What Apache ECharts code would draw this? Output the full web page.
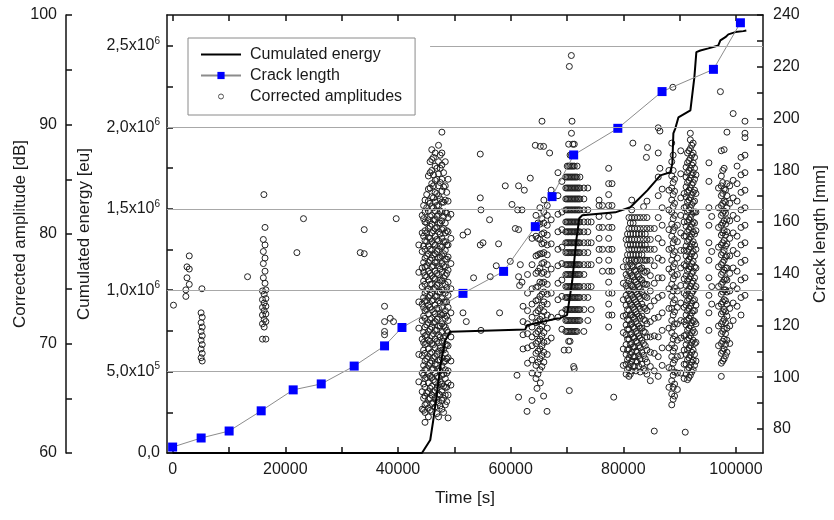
<!DOCTYPE html>
<html>
<head>
<meta charset="utf-8">
<script src="https://cdn.jsdelivr.net/npm/echarts@6.0.0/dist/echarts.min.js"></script>
<style>
  html, body { margin: 0; padding: 0; background: #fff; }
  #chart { width: 834px; height: 520px; }
</style>
</head>
<body>
<div id="chart"></div>
<script>
// cumulated energy curve
const energyTime = [0, 44260, 45730, 46270, 46920, 47690, 48400, 49280, 62600, 62910, 68230, 68820, 70010, 70290,
  70950, 71660, 72190, 72720, 78590, 81250, 84270, 86580, 88360, 88710, 88890, 89240, 89780, 91910, 92620,
  92970, 93680, 95100, 95450, 96870, 97230, 98120, 98650, 99900, 101310, 101840];
const energyValue = [0, 0, 79800, 202500, 368000, 570500, 693000, 744000, 759000, 785000, 826000, 828000, 846600, 908000,
  1061000, 1307000, 1442000, 1460000, 1478000, 1509000, 1613000, 1705000, 1724000, 1779000, 1963000, 1994000, 2061000, 2104000, 2309000,
  2462000, 2472000, 2485000, 2497000, 2503000, 2534000, 2554000, 2571000, 2585000, 2591000, 2595000];

// crack length measurements
const crackTime = [0, 5060, 10030, 15720, 21400, 26380, 32230, 37620, 40710, 51540, 58750, 64380, 67350, 71190, 79030, 86880, 96000, 100790];
const crackLength = [73.0, 76.5, 79.2, 87.0, 95.1, 97.4, 104.3, 112.1, 119.2, 132.4, 140.9, 158.2, 169.8, 185.9, 196.2, 210.4, 219.0, 237.0];

// corrected amplitudes, grouped as [time, [amplitudes at that time]]
const ampEarly = [
  [150, [73.5]], [2350, [74.9, 74.3]], [2550, [76.0, 77.0]], [2950, [75.4, 76.8, 78.0]], [5200, [75.0]],
  [5050, [72.8, 71.9, 71.1, 70.3, 69.5, 68.7]], [5250, [72.4, 71.5, 70.7, 69.9, 69.1, 68.4]],
  [13300, [76.1]], [16200, [83.6]], [16400, [80.6, 79.0, 77.8, 76.6, 75.5]], [16100, [79.5, 78.4, 77.3, 76.0]],
  [15950, [74.8, 74.0, 73.3, 72.6, 71.8, 70.4]], [16250, [74.5, 73.7, 73.0, 72.2, 71.5]], [16550, [74.9, 74.1, 73.4, 72.7, 72.0, 70.4]],
  [22060, [78.3]], [23230, [81.4]], [33300, [78.3]], [34010, [80.4, 78.2]], [39690, [81.4]],
  [37620, [73.4, 72.0, 71.1, 70.8]], [38630, [72.3]], [39210, [72.0]]
];

const amp45k = [
  [43700, [66.5, 69.0, 71.4, 73.8, 76.5, 79.0]],
  [44300, [64.0, 65.6, 67.3, 68.9, 70.4, 72.1, 73.6, 75.2, 76.9, 78.4, 80.1, 81.7]],
  [44550, [63.9, 65.0, 66.3, 67.1, 68.0, 69.4, 70.1, 71.0, 72.5, 73.3, 74.2, 75.7, 76.5, 77.4, 78.9, 79.8, 81.4, 82.6]],
  [44800, [62.8, 63.7, 64.4, 65.2, 66.0, 66.8, 67.6, 68.4, 69.1, 69.9, 70.7, 71.5, 72.3, 73.0, 73.9, 74.6, 75.4, 76.2, 77.0, 77.8, 78.6, 79.4, 80.3, 81.1, 82.0, 83.1]],
  [45100, [64.5, 65.5, 66.9, 67.7, 68.6, 70.0, 70.8, 71.7, 73.1, 73.9, 74.8, 76.1, 77.1, 78.0, 79.3, 80.1, 81.0, 82.4, 83.6]],
  [45400, [63.3, 64.1, 64.9, 65.6, 66.4, 67.2, 68.0, 68.8, 69.5, 70.3, 71.1, 71.9, 72.7, 73.5, 74.2, 75.0, 75.8, 76.6, 77.4, 78.2, 78.9, 79.7, 80.5, 81.3, 82.1, 83.0, 84.1, 85.3]],
  [45700, [63.9, 65.0, 65.9, 67.0, 68.2, 69.1, 70.2, 71.3, 72.2, 73.3, 74.4, 75.4, 76.4, 77.6, 78.6, 79.6, 80.7, 81.6, 82.8, 84.2, 85.6, 86.6]],
  [46000, [63.8, 64.5, 65.3, 66.1, 66.9, 67.6, 68.4, 69.2, 70.0, 70.7, 71.5, 72.3, 73.1, 73.9, 74.6, 75.4, 76.2, 77.0, 77.8, 78.5, 79.3, 80.1, 80.9, 81.7, 82.5, 83.4, 84.6, 85.8, 86.8, 87.7]],
  [46300, [64.6, 65.6, 66.7, 67.7, 68.7, 69.9, 70.9, 71.9, 72.9, 74.0, 75.0, 76.0, 77.1, 78.1, 79.1, 80.3, 81.3, 82.4, 83.3, 84.4, 85.4, 87.0]],
  [46600, [64.2, 65.0, 65.7, 66.5, 67.3, 68.1, 68.8, 69.6, 70.4, 71.2, 72.0, 72.7, 73.5, 74.3, 75.1, 75.9, 76.6, 77.4, 78.2, 79.0, 79.8, 80.5, 81.3, 82.1, 82.9, 83.8, 84.9, 86.2, 87.4]],
  [46900, [63.6, 64.9, 65.9, 67.0, 68.0, 69.0, 70.2, 71.2, 72.2, 73.2, 74.3, 75.3, 76.4, 77.4, 78.4, 79.5, 80.6, 81.6, 82.6, 83.7, 85.0, 86.0]],
  [47200, [63.3, 64.6, 65.4, 66.2, 66.9, 67.7, 68.5, 69.3, 70.1, 70.8, 71.6, 72.4, 73.2, 73.9, 74.7, 75.5, 76.3, 77.1, 77.8, 78.6, 79.4, 80.2, 81.0, 81.8, 82.6, 83.5, 84.4, 85.5, 86.6, 88.1]],
  [47500, [64.3, 65.3, 66.5, 67.5, 68.5, 69.6, 70.6, 71.6, 72.7, 73.7, 74.7, 75.8, 76.8, 77.9, 78.9, 80.0, 81.0, 82.1, 83.2, 84.7, 86.0, 87.2]],
  [47800, [64.0, 64.8, 65.6, 66.3, 67.1, 67.9, 68.7, 69.4, 70.2, 71.0, 71.8, 72.6, 73.3, 74.1, 74.9, 75.7, 76.5, 77.3, 78.0, 78.8, 79.6, 80.4, 81.2, 82.0, 82.9, 83.9, 85.0, 86.3, 87.4, 89.3]],
  [48100, [63.7, 65.0, 66.1, 67.2, 68.3, 69.4, 70.5, 71.6, 72.7, 73.8, 74.9, 76.0, 77.1, 78.2, 79.3, 80.5, 81.6, 82.9, 84.3, 85.6]],
  [48400, [64.4, 65.3, 66.0, 66.8, 67.6, 68.4, 69.1, 69.9, 70.7, 71.5, 72.3, 73.0, 73.8, 74.6, 75.4, 76.2, 77.0, 77.7, 78.5, 79.3, 80.1, 81.0, 82.0, 83.1, 84.4, 86.6]],
  [48650, [64.7, 66.0, 67.3, 68.6, 69.9, 71.2, 72.5, 73.8, 75.1, 76.4, 77.7, 79.0, 80.3, 81.9, 83.8]],
  [48900, [63.2, 65.3, 66.4, 67.5, 68.7, 69.8, 71.0, 72.1, 73.3, 74.4, 75.6, 76.7, 77.9, 79.0, 80.2, 81.5, 83.0, 85.0]],
  [49400, [66.2, 68.4, 70.6, 72.8, 75.0, 77.3, 79.6, 81.8]]
];

const ampSparse = [
  [51540, [79.9, 72.8]], [52130, [72.0]], [52360, [80.2]], [53420, [76.0]], [54610, [87.3, 83.3, 79.0]], [54730, [82.2, 71.2]],
  [55090, [79.2]], [56260, [81.3]], [56390, [76.1]], [57450, [77.1]], [57860, [79.1]], [58040, [72.8]],
  [59050, [84.4]], [59940, [77.5]], [60240, [82.7]], [60830, [80.5]], [61130, [67.1]], [61240, [82.2]],
  [61410, [84.4, 80.4, 76.1, 65.1]], [61590, [75.3]], [61720, [77.2]], [62020, [82.2, 75.6]], [62430, [84.0]],
  [62910, [63.8]], [63490, [85.1]], [63790, [64.8]], [64380, [88.1]], [64680, [65.9]], [65270, [88.0, 66.4]],
  [65570, [90.3]], [65850, [88.0, 65.2]], [66460, [63.8]], [66920, [87.4]],
  [70420, [95.3, 65.7]], [70780, [96.3]], [70900, [90.3]], [71180, [67.9]]
];

const amp65k = [
  [62200, [69.5, 70.8, 72.0, 73.4]],
  [63000, [68.2, 69.6, 70.9, 71.8, 73.0, 74.6, 76.3]],
  [63800, [67.3, 68.5, 69.8, 70.6, 71.5, 72.4, 73.6, 75.0, 77.2, 79.6]],
  [64500, [66.8, 68.0, 69.1, 70.0, 70.9, 71.9, 72.8, 73.9, 75.1, 76.4, 78.0, 79.8, 81.7]],
  [64850, [67.2, 68.3, 69.3, 70.2, 71.1, 72.0, 73.0, 74.0, 75.2, 76.6, 78.1, 79.6, 81.0]],
  [65200, [67.6, 68.6, 69.5, 70.4, 71.3, 72.2, 73.2, 74.3, 75.6, 76.9, 78.2, 79.5, 80.9, 82.4]],
  [65550, [67.9, 68.9, 69.8, 70.7, 71.6, 72.5, 73.5, 74.5, 75.5, 76.4, 77.3, 78.2, 79.1, 80.0, 81.4]],
  [65900, [68.3, 69.2, 70.1, 71.0, 72.0, 72.9, 73.8, 74.7, 75.6, 76.5, 77.4, 78.3, 79.2, 80.1, 81.0, 82.0, 83.1]],
  [66500, [69.0, 70.2, 71.4, 72.6, 73.6, 74.5, 75.4, 76.3, 77.2, 78.1, 79.0, 79.9, 80.8, 81.7, 82.6]],
  [67200, [70.5, 72.4, 74.6, 76.8, 79.1, 81.3, 84.0]],
  [68400, [72.4, 74.0, 75.5, 77.1, 78.6, 80.2, 81.8, 83.5, 85.6]],
  [69100, [71.3, 72.8, 74.3, 75.8, 77.3, 78.8, 80.4, 82.0, 84.8]]
];

const amp72k = [
  [69500, [69.4]],
  [69800, [71.1, 72.1, 73.1, 74.2, 75.2, 76.3, 77.2, 78.3, 79.2, 80.2, 81.1, 82.2, 83.2, 84.2, 85.2]],
  [70050, [71.1, 72.1, 73.1, 74.2, 75.2, 76.3, 77.2, 78.3, 79.2, 80.2, 81.1, 82.2, 83.2, 84.2, 85.2, 86.2]],
  [70300, [69.4, 70.2, 71.1, 72.1, 73.1, 74.2, 75.2, 76.3, 77.2, 78.3, 79.2, 80.2, 81.1, 82.2, 83.2, 84.2, 85.2, 86.2, 88.2]],
  [70550, [70.2, 71.1, 72.1, 73.1, 74.2, 75.2, 76.3, 77.2, 78.3, 79.2, 80.2, 81.1, 82.2, 83.2, 84.2, 85.2, 86.2, 87.2]],
  [70800, [71.1, 72.1, 73.1, 74.2, 75.2, 76.3, 77.2, 78.3, 79.2, 80.2, 81.1, 82.2, 83.2, 84.2, 85.2, 86.2, 87.2, 89.2]],
  [71050, [71.1, 72.1, 73.1, 74.2, 75.2, 76.3, 77.2, 78.3, 79.2, 80.2, 81.1, 82.2, 83.2, 84.2, 85.2, 86.2, 88.2]],
  [71300, [67.7, 71.1, 72.1, 73.1, 74.2, 75.2, 76.3, 77.2, 78.3, 79.2, 80.2, 81.1, 82.2, 83.2, 84.2, 85.2, 86.2, 88.2]],
  [71550, [71.1, 72.1, 73.1, 74.2, 75.2, 76.3, 77.2, 78.3, 79.2, 80.2, 81.1, 82.2, 83.2, 84.2, 85.2]],
  [71800, [71.1, 72.1, 73.1, 74.2, 75.2, 76.3, 77.2, 78.3, 79.2, 80.2, 81.1, 82.2, 83.2, 84.2, 85.2, 86.2]],
  [72050, [72.1, 73.1, 74.2, 75.2, 76.3, 77.2, 78.3, 79.2, 80.2, 81.1, 82.2, 83.2, 84.2]],
  [72300, [72.1, 73.1, 74.2, 75.2, 76.3, 77.2, 78.3, 79.2, 80.2, 81.1, 82.2, 83.2, 84.2, 85.2]],
  [73000, [71.1, 73.1, 74.2, 75.2, 76.3, 77.2, 78.3, 79.2, 80.2, 81.1, 82.2, 83.2, 84.2]],
  [73700, [72.1, 74.2, 75.2, 77.2, 78.3, 79.2, 80.2, 81.1, 82.2, 84.2]],
  [74300, [73.1, 75.2, 77.2, 79.2, 81.1]],
  [75700, [77.6, 78.6, 79.6, 80.6, 81.6, 82.6, 83.1]],
  [76300, [76.6, 78.6, 80.6, 82.6]],
  [77400, [71.5, 72.6, 73.6, 74.6, 75.6, 76.6, 77.6, 78.6, 79.6, 80.6, 81.6, 82.6, 83.6, 84.6, 86.0]],
  [78000, [72.6, 74.6, 76.6, 78.6, 80.6, 82.6, 84.6]],
  [78300, [65.1]]
];

const amp80k = [
  [80000, [68.0, 69.5, 71.0, 72.5, 74.0, 75.5, 77.0]],
  [80500, [67.2, 68.1, 69.0, 69.9, 70.8, 71.7, 72.6, 73.5, 74.4, 75.3, 76.3, 77.6, 79.5]],
  [80750, [67.6, 68.5, 69.4, 70.4, 71.3, 72.2, 73.1, 74.1, 75.0, 76.0, 77.0, 78.1, 79.0, 80.0]],
  [81000, [67.0, 67.8, 68.7, 69.5, 70.4, 71.3, 72.1, 73.0, 73.9, 74.8, 75.7, 76.6, 77.6, 78.6, 79.5, 80.5, 81.5]],
  [81250, [67.2, 68.1, 69.0, 69.9, 70.8, 71.7, 72.6, 73.6, 74.5, 75.4, 76.4, 77.3, 78.1, 79.0, 80.0, 81.0]],
  [81500, [67.5, 68.4, 69.2, 70.0, 70.9, 71.8, 72.6, 73.5, 74.4, 75.3, 76.2, 77.1, 77.6, 78.6, 79.5, 80.5, 81.5, 82.2, 83.1]],
  [81700, [88.3]],
  [81750, [67.9, 68.8, 69.7, 70.6, 71.5, 72.4, 73.3, 74.2, 75.2, 76.1, 77.0, 78.1, 79.0, 80.0, 81.0]],
  [82000, [67.9, 68.8, 69.7, 70.5, 71.4, 72.3, 73.1, 74.0, 74.9, 75.8, 76.7, 77.6, 78.6, 79.5, 80.5, 81.5]],
  [82250, [67.5, 68.4, 69.3, 70.2, 71.1, 72.0, 72.9, 73.8, 74.7, 75.6, 76.6, 77.5, 78.1, 79.0, 80.0]],
  [82500, [68.3, 69.2, 70.1, 70.9, 71.8, 72.7, 73.6, 74.5, 75.4, 76.3, 77.6, 78.6, 79.5, 80.5, 81.5]],
  [82750, [67.9, 68.9, 69.8, 70.7, 71.6, 72.5, 73.4, 74.3, 75.2, 76.1, 77.1, 78.1, 79.0, 80.0]],
  [83000, [67.4, 68.6, 69.6, 70.5, 71.4, 72.3, 73.2, 74.1, 75.0, 75.9, 76.8, 77.6, 78.6, 79.5, 80.5, 81.5]],
  [83300, [68.1, 69.2, 70.3, 71.4, 72.5, 73.6, 74.7, 75.8, 76.9, 78.1, 79.0, 80.0]],
  [83600, [67.7, 68.9, 70.0, 71.1, 72.2, 73.3, 74.4, 75.5, 76.6, 77.6, 78.6, 79.5, 80.5, 81.5, 82.5]],
  [83900, [67.5, 68.6, 69.8, 71.0, 72.1, 73.2, 74.3, 75.4, 76.5, 77.6, 79.0, 80.0]],
  [84100, [87.0]], [84300, [87.9]],
  [84200, [67.2, 68.3, 69.4, 70.6, 71.8, 73.0, 74.2, 75.4, 76.6, 77.6, 78.6, 79.5, 80.5, 81.5, 83.0]],
  [84800, [66.6, 67.9, 69.2, 70.6, 72.0, 73.4, 74.8, 76.2, 77.6, 78.6, 79.5, 80.5]],
  [85500, [62.0, 67.5, 69.1, 70.7, 72.3, 73.9, 75.5, 77.1, 78.6, 80.5]],
  [86200, [67.0, 68.8, 70.6, 72.4, 74.2, 76.0, 77.8, 79.6, 81.5, 83.5, 85.2, 87.4, 89.7]],
  [86500, [89.4, 86.0]],
  [86900, [68.0, 69.6, 71.2, 72.8, 74.4, 76.0, 77.6, 79.2, 80.8, 82.4, 84.1]]
];

const amp90k = [
  [88100, [66.0, 67.8, 69.6, 71.4, 73.2, 75.0, 76.8, 78.6, 80.4, 82.2, 84.0, 85.8]],
  [88600, [64.4, 65.4, 66.6, 67.7, 68.8, 69.9, 71.0, 72.1, 73.2, 74.3, 75.4, 76.5, 77.6, 78.7, 79.8, 80.9, 82.0, 83.1, 84.2, 85.3, 86.6, 88.3]],
  [88800, [93.4]],
  [88850, [64.9, 66.0, 67.1, 68.2, 69.3, 70.4, 71.5, 72.6, 73.7, 74.8, 75.9, 77.0, 78.1, 79.2, 80.3, 81.4, 82.5, 83.6, 84.7, 85.8, 87.2]],
  [89100, [65.2, 66.3, 67.4, 68.5, 69.6, 70.7, 71.8, 72.9, 74.0, 75.1, 76.2, 77.3, 78.4, 79.5, 80.6, 81.7, 82.8, 83.9, 85.0]],
  [89600, [65.8, 67.3, 68.8, 70.3, 71.8, 73.3, 74.8, 76.3, 77.8, 79.3, 80.8]],
  [90200, [67.3, 68.9, 70.5, 72.1, 73.7, 75.3, 76.9, 78.5, 80.1, 81.7, 83.3, 85.5, 87.6]],
  [90800, [66.8, 68.1, 69.4, 70.7, 72.0, 73.3, 74.6, 75.9, 77.2, 78.5, 79.8, 81.1, 82.4, 83.7]],
  [91000, [61.9]],
  [91150, [67.2, 68.1, 69.0, 69.9, 70.8, 71.7, 72.6, 73.5, 74.4, 75.3, 76.2, 77.1, 78.0, 78.9, 79.8, 80.7, 81.6, 82.5, 83.4, 84.3, 85.2, 86.1]],
  [91400, [66.7, 67.6, 68.5, 69.4, 70.3, 71.2, 72.1, 73.0, 73.9, 74.8, 75.7, 76.6, 77.5, 78.4, 79.3, 80.2, 81.1, 82.0, 82.9, 83.8, 84.7, 85.6, 86.5, 87.4]],
  [91650, [66.9, 67.8, 68.7, 69.6, 70.5, 71.4, 72.3, 73.2, 74.1, 75.0, 75.9, 76.8, 77.7, 78.6, 79.5, 80.4, 81.3, 82.2, 83.1, 84.0, 84.9, 85.8, 86.7, 87.6]],
  [91900, [67.1, 68.0, 68.9, 69.8, 70.7, 71.6, 72.5, 73.4, 74.3, 75.2, 76.1, 77.0, 77.9, 78.8, 79.7, 80.6, 81.5, 82.4, 83.3, 84.2, 85.1, 86.0, 86.9, 87.8, 88.6, 89.2]],
  [92150, [67.4, 68.3, 69.2, 70.1, 71.0, 71.9, 72.8, 73.7, 74.6, 75.5, 76.4, 77.3, 78.2, 79.1, 80.0, 80.9, 81.8, 82.7, 83.6, 84.5, 85.4, 86.3, 87.2, 88.1]],
  [92400, [67.6, 68.5, 69.4, 70.3, 71.2, 72.1, 73.0, 73.9, 74.8, 75.7, 76.6, 77.5, 78.4, 79.3, 80.2, 81.1, 82.0, 82.9, 83.8, 84.7, 85.6, 86.5, 87.4, 88.3]],
  [92650, [68.0, 69.0, 70.0, 71.0, 72.0, 73.0, 74.0, 75.0, 76.0, 77.0, 78.0, 79.0, 80.0, 81.0, 82.0, 83.0, 84.0, 85.0, 86.0, 87.0]],
  [92900, [68.4, 70.1, 71.8, 73.5, 75.2, 76.9, 78.6, 80.3, 82.0, 83.7, 85.4]]
];

const amp98k = [
  [95200, [71.2, 72.8, 74.4, 76.0, 77.6, 79.2, 80.8, 82.4, 84.8, 86.5]],
  [95700, [73.6, 75.2, 78.4, 81.6]],
  [96900, [69.8, 71.6, 73.4, 75.2, 77.0, 78.8, 80.6, 82.4, 84.2]],
  [97240, [93.0]],
  [97400, [67.0, 68.2, 69.1, 70.0, 70.9, 71.8, 72.7, 73.6, 74.5, 75.4, 76.3, 77.2, 78.1, 79.0, 79.9, 80.8, 81.7, 82.6, 83.5, 84.4, 85.3, 87.6]],
  [97650, [68.4, 69.3, 70.2, 71.1, 72.0, 72.9, 73.8, 74.7, 75.6, 76.5, 77.4, 78.3, 79.2, 80.1, 81.0, 81.9, 82.8, 83.7, 84.7, 85.8]],
  [97900, [68.6, 69.5, 70.4, 71.3, 72.2, 73.1, 74.0, 74.9, 75.8, 76.7, 77.6, 78.5, 79.4, 80.3, 81.2, 82.1, 83.0, 84.1, 86.0, 87.7]],
  [98150, [68.9, 69.9, 70.9, 71.9, 72.9, 73.9, 74.9, 75.9, 76.9, 77.9, 78.9, 79.9, 80.9, 81.9, 82.9, 84.0]],
  [98400, [69.2, 70.3, 71.4, 72.5, 73.6, 74.7, 75.8, 76.9, 78.0, 79.1, 80.2, 81.3, 82.4, 83.5, 84.6, 89.3]],
  [98900, [70.0, 71.6, 73.2, 74.8, 76.4, 78.0, 79.6, 81.2, 82.8, 84.4]],
  [99500, [72.1, 73.7, 75.3, 76.9, 78.5, 80.1, 81.7, 83.3, 84.9, 91.0]],
  [100200, [73.4, 75.0, 76.6, 78.2, 79.8, 81.4, 83.0, 84.6, 86.2]],
  [100900, [72.6, 74.2, 75.8, 77.4, 79.0, 80.6, 82.2, 83.8, 85.4, 87.0]],
  [101600, [74.4, 76.0, 77.6, 79.2, 80.8, 82.4, 84.0, 85.6, 87.2, 88.8, 89.2, 90.3]]
];

const timeTicks = [0, 10000, 20000, 30000, 40000, 50000, 60000, 70000, 80000, 90000, 100000];
const timeLabels = [0, 20000, 40000, 60000, 80000, 100000];
const ampTicks = [60, 65, 70, 75, 80, 85, 90, 95, 100];
const energyTicks = [0, 250000, 500000, 750000, 1000000, 1250000, 1500000, 1750000, 2000000, 2250000, 2500000];
const energyLabels = [0, 500000, 1000000, 1500000, 2000000, 2500000];
const crackTicks = [80, 90, 100, 110, 120, 130, 140, 150, 160, 170, 180, 190, 200, 210, 220, 230, 240];
const crackLabels = [80, 100, 120, 140, 160, 180, 200, 220, 240];

(() => {
  const FONT = 'Liberation Sans, Arial, sans-serif';
  const TEXT = '#1a1a1a';
  const AXIS = '#111';
  const GRID = '#a8a8a8';

  // legend icons: thick bar for the energy line, small ring for the amplitudes
  const ICON_LINE = 'path://M0,0 M40,9 M0,3.5 L40,3.5 L40,5.5 L0,5.5 Z';
  const ICON_RING = 'path://M0,0 M40,9 M17.5,4.5 A2.5,2.5 0 1,0 22.5,4.5 A2.5,2.5 0 1,0 17.5,4.5 Z';

  function pairs(xs, ys) {
    return xs.map((x, i) => [x, ys[i]]);
  }

  function flatten(groups) {
    const out = [];
    groups.forEach(g => g.forEach(col => col[1].forEach(a => out.push([col[0], a]))));
    return out;
  }

  function energyLabel(v) {
    if (v === 0) {
      return '{a|0,0}';
    }
    const e = Math.floor(Math.log10(v));
    const m = (v / Math.pow(10, e)).toFixed(1).replace('.', ',');
    return '{a|' + m + 'x10}{s|' + e + '}';
  }

  const axisLine = {show: true, onZero: false, lineStyle: {color: AXIS, width: 1.5}};
  const tick = {inside: true, length: 6, lineStyle: {color: AXIS, width: 1.5}};
  const label = {color: TEXT, fontSize: 16, fontFamily: FONT};
  const nameStyle = {color: TEXT, fontSize: 17, fontFamily: FONT};

  const gridLines = energyLabels.slice(1, 5).map(v => [{coord: [-1000, v]}, {coord: [104800, v]}]);
  gridLines.push([{coord: [45700, 2500000]}, {coord: [104800, 2500000]}]);

  const option = {
    animation: false,
    backgroundColor: '#fff',
    textStyle: {fontFamily: FONT},
    grid: {left: 167, right: 71, top: 15, bottom: 67, outerBoundsMode: 'none'},
    legend: {
      orient: 'vertical',
      left: 188,
      top: 38,
      padding: [8, 13, 10, 12],
      itemGap: 4,
      itemWidth: 40,
      itemHeight: 9,
      backgroundColor: '#fff',
      borderColor: '#8a8a8a',
      borderWidth: 1,
      borderRadius: 0,
      textStyle: {color: TEXT, fontSize: 16, fontFamily: FONT, lineHeight: 17, padding: [0, 0, 0, 4]},
      data: [
        {name: 'Cumulated energy', icon: ICON_LINE, itemStyle: {color: '#000', borderWidth: 0}},
        {name: 'Crack length'},
        {name: 'Corrected amplitudes', icon: ICON_RING,
          itemStyle: {color: 'rgba(0,0,0,0)', borderColor: '#555', borderWidth: 1}}
      ]
    },
    xAxis: [{
      type: 'value',
      min: -1000,
      max: 104800,
      position: 'bottom',
      axisLine: axisLine,
      axisTick: Object.assign({customValues: timeTicks}, tick),
      axisLabel: Object.assign({customValues: timeLabels, margin: 9, formatter: v => String(v)}, label),
      splitLine: {show: false},
      name: 'Time [s]',
      nameLocation: 'middle',
      nameGap: 37,
      nameMoveOverlap: false,
      nameTextStyle: nameStyle
    }, {
      type: 'value',
      min: -1000,
      max: 104800,
      position: 'top',
      axisLine: axisLine,
      axisTick: Object.assign({customValues: timeTicks}, tick),
      axisLabel: {show: false},
      splitLine: {show: false}
    }],
    yAxis: [{
      type: 'value',
      min: 60,
      max: 100,
      interval: 10,
      position: 'left',
      offset: 101,
      axisLine: axisLine,
      axisTick: Object.assign({customValues: ampTicks}, tick),
      axisLabel: Object.assign({margin: 9}, label),
      splitLine: {show: false},
      name: 'Corrected amplitude [dB]',
      nameLocation: 'middle',
      nameRotate: 90,
      nameGap: 37,
      nameMoveOverlap: false,
      nameTextStyle: nameStyle
    }, {
      type: 'value',
      min: 0,
      max: 2690000,
      position: 'left',
      axisLine: axisLine,
      axisTick: Object.assign({customValues: energyTicks}, tick),
      axisLabel: {
        customValues: energyLabels,
        margin: 7,
        formatter: energyLabel,
        rich: {
          a: {color: TEXT, fontSize: 16, fontFamily: FONT, lineHeight: 20},
          s: {color: TEXT, fontSize: 10, fontFamily: FONT, verticalAlign: 'top', lineHeight: 20}
        }
      },
      splitLine: {show: false},
      name: 'Cumulated energy [eu]',
      nameLocation: 'middle',
      nameRotate: 90,
      nameGap: 74,
      nameMoveOverlap: false,
      nameTextStyle: nameStyle
    }, {
      type: 'value',
      min: 70.7,
      max: 240,
      position: 'right',
      axisLine: axisLine,
      axisTick: Object.assign({customValues: crackTicks}, tick),
      axisLabel: Object.assign({customValues: crackLabels, margin: 10}, label),
      splitLine: {show: false},
      name: 'Crack length [mm]',
      nameLocation: 'middle',
      nameRotate: 90,
      nameGap: 49,
      nameMoveOverlap: false,
      nameTextStyle: nameStyle
    }],
    series: [{
      name: 'Cumulated energy',
      type: 'line',
      xAxisIndex: 0,
      yAxisIndex: 1,
      data: pairs(energyTime, energyValue),
      symbol: 'none',
      lineStyle: {color: '#000', width: 2},
      itemStyle: {color: '#000'},
      markLine: {
        silent: true,
        symbol: 'none',
        label: {show: false},
        lineStyle: {color: GRID, width: 1, type: 'solid'},
        data: gridLines
      }
    }, {
      name: 'Crack length',
      type: 'line',
      xAxisIndex: 0,
      yAxisIndex: 2,
      data: pairs(crackTime, crackLength),
      symbol: 'rect',
      symbolSize: 9,
      showAllSymbol: true,
      lineStyle: {color: '#8c8c8c', width: 1},
      itemStyle: {color: '#0000ff', borderWidth: 0}
    }, {
      name: 'Corrected amplitudes',
      type: 'scatter',
      xAxisIndex: 0,
      yAxisIndex: 0,
      data: flatten([ampEarly, amp45k, ampSparse, amp65k, amp72k, amp80k, amp90k, amp98k]),
      symbol: 'circle',
      symbolSize: 6,
      itemStyle: {color: 'rgba(0,0,0,0)', borderColor: '#222', borderWidth: 1, opacity: 1}
    }]
  };

  const chart = echarts.init(document.getElementById('chart'), null, {renderer: 'canvas'});
  chart.setOption(option);
})();
</script>
</body>
</html>
